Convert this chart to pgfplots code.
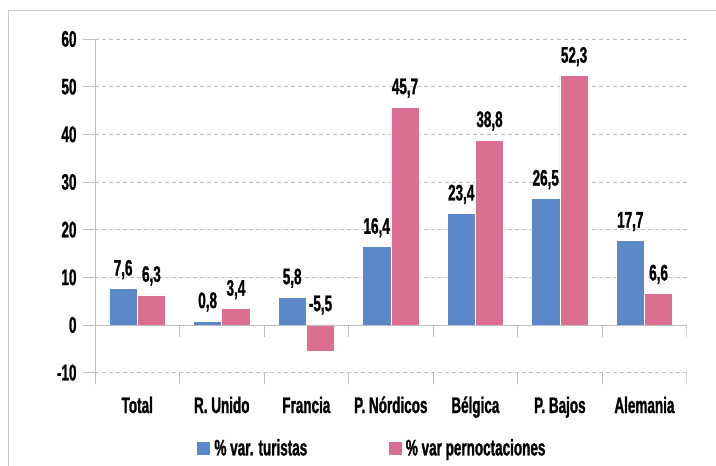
\documentclass[border=0pt]{standalone}
\usepackage{fontspec}
\setmainfont{Liberation Sans}[FakeStretch=0.6, FakeBold=1.2]
\usepackage{pgfplots}
\pgfplotsset{compat=1.18}
\usepackage{pgfplotstable}
\definecolor{barblue}{HTML}{5B88C8}
\definecolor{barpink}{HTML}{DC6E8F}
\definecolor{gridgray}{HTML}{BFBFBF}
\definecolor{framegray}{HTML}{C8C8C8}
\pgfplotsset{sqlegend/.style={legend image code/.code={\fill[##1] (0bp,-7bp) rectangle (14bp,7bp);}}}

\pgfplotstableread{
x v dy
0 7.6 13
1 0.8 13
2 5.8 13
3 16.4 13
4 23.4 13
5 26.5 13
6 17.7 13
}\tur
\pgfplotstableread{
x v dy
0 6.3 13
1 3.4 13
2 -5.5 40
3 45.7 13
4 38.8 13
5 52.3 13
6 6.6 13
}\per

\begin{document}
\begin{tikzpicture}[font=\fontsize{22.5bp}{24bp}\selectfont\bfseries]
\useasboundingbox (0,0) rectangle (716bp,466bp);
\draw[framegray, line width=1bp] (8.3bp,455.3bp) rectangle (740bp,-20bp);
\begin{axis}[
  at={(95bp,82bp)}, anchor=south west,
  scale only axis, width=591.7bp, height=345bp,
  xmin=-0.5, xmax=6.5, ymin=-12.4, ymax=60,
  axis y line*=left, axis x line*=bottom,
  x axis line style={draw=none},
  y axis line style={gridgray, line width=0.8bp},
  ytick={-10,0,10,20,30,40,50,60},
  ymajorgrids,
  major grid style={gridgray, dash pattern=on 4bp off 3bp, line width=0.8bp},
  ytick style={gridgray, line width=0.8bp},
  tick align=outside, major tick length=12bp,
  xtick={0,...,6},
  xticklabels={Total,R. Unido,Francia,P. Nórdicos,Bélgica,P. Bajos,Alemania},
  xtick style={draw=none},
  xticklabel style={anchor=base, yshift=-17bp},
  yticklabel style={xshift=-3bp},
  /pgf/number format/assume math mode=true,
  ybar=0pt, bar width=0.335,
  point meta=y,
  nodes near coords={\pgfmathprintnumber[fixed,fixed zerofill,precision=1,use comma,assume math mode=true]{\pgfplotspointmeta}},
  visualization depends on={\thisrow{dy}\as\dy},
  every node near coord/.append style={anchor=base, yshift=\dy*1bp, inner sep=0pt, text=black},
  legend columns=2,
  legend style={at={(0.171,-0.1855)}, anchor=west, draw=none, fill=none, inner sep=0pt,
    /tikz/every even column/.append style={column sep=77bp},
    nodes={inner sep=3.5bp}},
]
\addplot[fill=barblue, draw=white, line width=0.6bp, sqlegend] table[x=x,y=v] {\tur};
\addlegendentry{\% var. turistas}
\addplot[fill=barpink, draw=white, line width=0.6bp, sqlegend] table[x=x,y=v] {\per};
\addlegendentry{\% var pernoctaciones}
\draw[gridgray, line width=0.8bp] (axis cs:-0.5,0) -- (axis cs:6.5,0);
\pgfplotsinvokeforeach{-0.5,0.5,1.5,2.5,3.5,4.5,5.5,6.5}{
  \draw[gridgray, line width=0.8bp] (axis cs:#1,0) -- ++(0pt,-12bp);
  \draw[gridgray, line width=0.8bp] (axis cs:#1,-12.4) -- ++(0pt,11bp);
}
\end{axis}
\end{tikzpicture}
\end{document}
